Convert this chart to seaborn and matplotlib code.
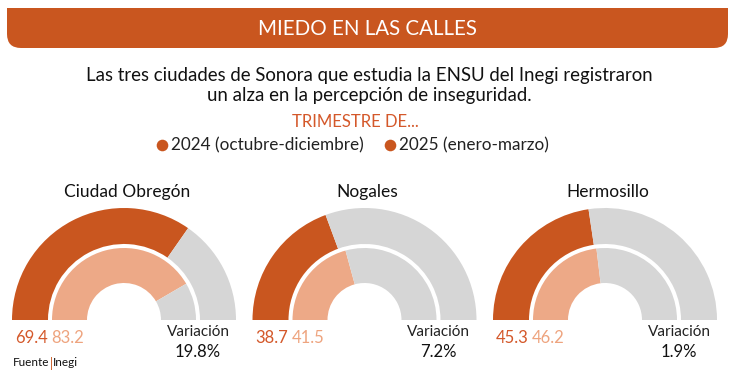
import matplotlib
matplotlib.use("Agg")
import matplotlib.pyplot as plt
import seaborn as sns
from matplotlib.patches import FancyBboxPatch, Rectangle

# data
cities = ["Ciudad Obregón", "Nogales", "Hermosillo"]
pct_2024 = [69.4, 38.7, 45.3]   # outer ring, oct-dic
pct_2025 = [83.2, 41.5, 46.2]   # inner ring, ene-mar
variacion = ["19.8%", "7.2%", "1.9%"]
legend_labels = ["2024 (octubre-diciembre)", "2025 (enero-marzo)"]

DARK = "#C9561F"
LIGHT = "#EDA987"
GREY = "#D6D6D6"
TXT_DARK = "#D4582A"
TXT_LIGHT = "#EEA47F"

sns.set_theme(style="white")
plt.rcParams["font.family"] = ["Lato", "DejaVu Sans"]

W, H = 750, 375
fig = plt.figure(figsize=(7.5, 3.75), dpi=100)
ax = fig.add_axes([0, 0, 1, 1])


def Y(y):
    # image row -> axis y
    return H - y


# banner
ax.add_patch(FancyBboxPatch((7 + 14, Y(48) + 14), 721 - 28, 40 - 28,
                            boxstyle="round,pad=14", fc=DARK, ec="none"))
ax.add_patch(Rectangle((7, Y(28)), 721, 20, fc=DARK, ec="none"))
ax.text(367, Y(29), "MIEDO EN LAS CALLES", color="white", fontsize=14.8,
        ha="center", va="center")

ax.text(369, Y(76), "Las tres ciudades de Sonora que estudia la ENSU del Inegi registraron",
        fontsize=13.4, ha="center", va="center", color="#111111")
ax.text(369, Y(96), "un alza en la percepción de inseguridad.",
        fontsize=13.4, ha="center", va="center", color="#111111")
ax.text(355, Y(122), "TRIMESTRE DE...", fontsize=12, ha="center", va="center",
        color=TXT_DARK)

# legend
leg_x = [162, 390]
ax.scatter(leg_x, [Y(145)] * 2, s=70, color=DARK, linewidths=0, zorder=3)
for x, lab in zip(leg_x, legend_labels):
    ax.text(x + 9, Y(145), lab, fontsize=12.3, ha="left", va="center", color="#222222")

# half donuts
centers = [124, 364.5, 605]
cy = Y(320)
R_OUT, W_OUT = 112, 36
R_IN, W_IN = 72, 35
for cx, city, v24, v25, var in zip(centers, cities, pct_2024, pct_2025, variacion):
    ax.pie([v24, 100 - v24, 100], center=(cx, cy), radius=R_OUT,
           startangle=180, counterclock=False,
           colors=[DARK, GREY, "none"], wedgeprops=dict(width=W_OUT, linewidth=0))
    ax.pie([v25, 100 - v25, 100], center=(cx, cy), radius=R_IN,
           startangle=180, counterclock=False,
           colors=[LIGHT, GREY, "none"], wedgeprops=dict(width=W_IN, linewidth=0))
    ax.text(cx + 3, Y(192), city, fontsize=12.5, ha="center", va="center", color="#111111")
    ax.text(cx - 109, Y(338), f"{v24:.1f}", fontsize=12, ha="left", va="center",
            color=TXT_DARK)
    ax.text(cx - 73, Y(338), f"{v25:.1f}", fontsize=12, ha="left", va="center",
            color=TXT_LIGHT)
    ax.text(cx + 74, Y(332), "Variación", fontsize=11, ha="center", va="center",
            color="#222222")
    ax.text(cx + 74, Y(352), var, fontsize=12, ha="center", va="center", color="#111111")

# source
ax.text(13, Y(363), "Fuente", fontsize=8.5, ha="left", va="center", color="#111111")
ax.text(50, Y(363), "|", fontsize=9, ha="left", va="center", color=DARK)
ax.text(53, Y(363), "Inegi", fontsize=8.5, ha="left", va="center", color="#111111")

ax.set_xlim(0, W)
ax.set_ylim(0, H)
ax.set_aspect("auto")
ax.axis("off")

fig.savefig("out.png", dpi=100, facecolor="white")
